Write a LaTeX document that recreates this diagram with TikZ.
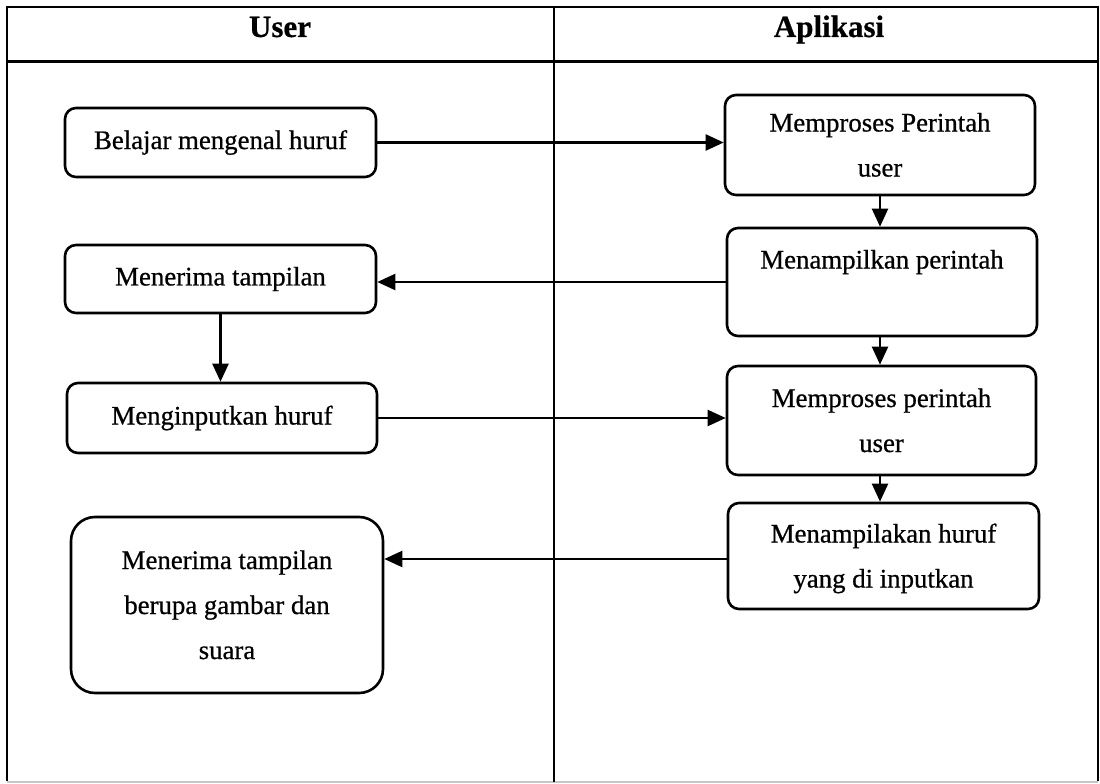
\documentclass[tikz,border=0pt]{standalone}
\usepackage{fontspec}
\setmainfont{Liberation Serif}[FakeBold=0.6]
\usetikzlibrary{arrows.meta}

\tikzset{
  box/.style={draw=black, line width=2.6pt, rounded corners=11pt, align=center,
    font=\fontsize{26.8}{45}\selectfont\addfontfeature{FakeBold=0.7}, inner sep=4pt},
  bigbox/.style={box, rounded corners=24pt},
  flow/.style={line width=2.2pt, -{Triangle[length=18pt,width=16pt]}},
  frame/.style={line width=2.4pt},
  lanehead/.style={font=\fontsize{31}{36}\selectfont\bfseries, anchor=base}
}

\begin{document}
\begin{tikzpicture}[x=1pt, y=-1pt]
  \useasboundingbox (0,0) rectangle (1100,784);

  % swimlane frame
  \draw[frame] (7,781) -- (7,7) -- (1098,7) -- (1098,781);
  \draw[line width=1.2pt, black!22] (7,782) -- (1098,782);
  \draw[line width=3pt] (7,62) -- (1098,62);
  \draw[frame] (554,7) -- (554,782);

  \node[lanehead] (hu) at (280,37) {User};
  \node[lanehead] (ha) at (829,37) {Aplikasi};

  % User lane
  \node[box, minimum width=311pt, minimum height=69pt] (b1) at (220.5,142.5) {Belajar mengenal huruf};
  \node[box, minimum width=311pt, minimum height=68pt] (b2) at (220.5,279) {Menerima tampilan};
  \node[box, minimum width=310pt, minimum height=70pt] (b3) at (222,418) {Menginputkan huruf};
  \node[bigbox, minimum width=312pt, minimum height=176pt] (b4) at (227,605)
    {\strut Menerima tampilan\\berupa gambar dan\\suara\strut};

  % Aplikasi lane
  \node[box, minimum width=310pt, minimum height=100pt] (a1) at (880,145)
    {\strut Memproses Perintah\\user\strut};
  \node[box, minimum width=310pt, minimum height=108pt] (a2) at (882,282)
    {\strut Menampilkan perintah\\\strut};
  \node[box, minimum width=309pt, minimum height=109pt] (a3) at (881.5,420.5)
    {\strut Memproses perintah\\user\strut};
  \node[box, minimum width=311pt, minimum height=106pt] (a4) at (883.5,556)
    {\strut Menampilakan huruf\\yang di inputkan\strut};

  % flows between lanes
  \draw[flow] (b1.east) -- (b1.east -| a1.west);
  \draw[flow] (a2.west) -- (a2.west -| b2.east);
  \draw[flow] (b3.east) -- (b3.east -| a3.west);
  \draw[flow] ([yshift=-3pt]a4.west) -- ([yshift=-3pt]a4.west -| b4.east);

  % flows within lanes
  \draw[flow] (b2.south) -- (b2.south |- b3.north);
  \draw[flow] (a1.south) -- (a1.south |- a2.north);
  \draw[flow] (a2.south -| a1.south) -- (a1.south |- a3.north);
  \draw[flow] (a3.south -| a1.south) -- (a1.south |- a4.north);
\end{tikzpicture}
\end{document}
